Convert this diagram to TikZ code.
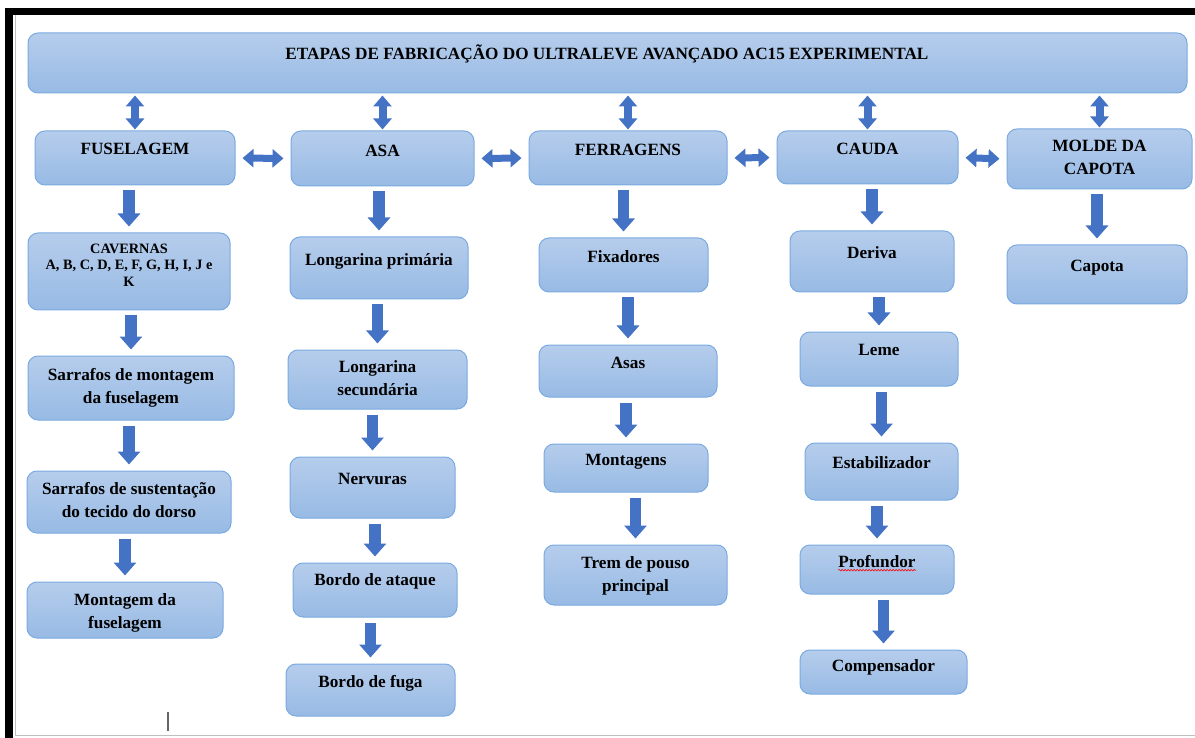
\documentclass[tikz,border=0pt]{standalone}
\usepackage{fontspec}
\setmainfont{Liberation Serif}
\usetikzlibrary{arrows.meta, decorations.pathmorphing}

\definecolor{boxtop}{RGB}{182,205,236}
\definecolor{boxbot}{RGB}{151,186,228}
\definecolor{boxline}{RGB}{122,170,224}
\definecolor{arrblue}{RGB}{68,114,196}

\begin{document}
\begin{tikzpicture}[x=1pt,y=-1pt,
  etapa/.style={rectangle, rounded corners=10pt, draw=boxline, line width=1pt,
    top color=boxtop, bottom color=boxbot},
  txt/.style={anchor=north, inner sep=0pt, align=center,
    font=\bfseries\fontsize{17.2}{23}\selectfont},
  small/.style={anchor=north, inner sep=0pt, align=center,
    font=\bfseries\fontsize{14.3}{16.8}\selectfont},
  down/.style={arrblue, line width=11.5pt,
    -{Triangle[width=22pt,length=13pt]}, shorten <=5pt, shorten >=6pt},
  updown/.style={arrblue, line width=8pt,
    {Triangle[width=18pt,length=11pt]}-{Triangle[width=18pt,length=11pt]},
    shorten <=2pt, shorten >=1pt},
  side/.style={arrblue, line width=7pt,
    {Triangle[width=18pt,length=11pt]}-{Triangle[width=18pt,length=11pt]},
    shorten <=7pt, shorten >=7pt}]

\useasboundingbox (0,0) rectangle (1195,738);

% page frame
  \fill[black] (5,8) rectangle (1195,15);
  \fill[black] (5,8) rectangle (13,738);
  \draw[black!25] (15,15) -- (15,735) -- (1195,735);
  \draw[black!60, line width=1.2pt] (168,712) -- (168,731);

% title and main stages
  \node[etapa, minimum width=1159, minimum height=60] (title) at (607.5,63) {};
  \node[txt] (title-t) at (607,45) {ETAPAS DE FABRICAÇÃO DO ULTRALEVE AVANÇADO AC15 EXPERIMENTAL};

  \node[etapa, minimum width=200, minimum height=54] (fus) at (135,158) {};
  \node[txt] (fus-t) at (fus.north) [yshift=-12] {FUSELAGEM};
  \node[etapa, minimum width=183, minimum height=55] (asa) at (382.5,158.5) {};
  \node[txt] (asa-t) at (asa.north) [yshift=-14] {ASA};
  \node[etapa, minimum width=198, minimum height=54] (fer) at (628,158) {};
  \node[txt] (fer-t) at (fer.north) [yshift=-13] {FERRAGENS};
  \node[etapa, minimum width=181, minimum height=53] (cau) at (867.5,157.5) {};
  \node[txt] (cau-t) at (cau.north) [yshift=-12] {CAUDA};
  \node[etapa, minimum width=185, minimum height=60] (mol) at (1099.5,159) {};
  \node[txt] (mol-t) at (mol.north) [yshift=-11] {MOLDE DA\\CAPOTA};

% fuselagem
  \node[etapa, minimum width=202, minimum height=77] (cav) at (129,271.5) {};
  \node[small] (cav-t) at (cav.north) [yshift=-11] {CAVERNAS\\A, B, C, D, E, F, G, H, I, J e\\K};
  \node[etapa, minimum width=206, minimum height=64] (sarm) at (131,388) {};
  \node[txt] (sarm-t) at (sarm.north) [yshift=-13] {Sarrafos de montagem\\da fuselagem};
  \node[etapa, minimum width=204, minimum height=62] (sars) at (129,502) {};
  \node[txt] (sars-t) at (sars.north) [yshift=-12] {Sarrafos de sustentação\\do tecido do dorso};
  \node[etapa, minimum width=196, minimum height=56] (mon) at (125,610) {};
  \node[txt] (mon-t) at (mon.north) [yshift=-12] {Montagem da\\fuselagem};

% asa
  \node[etapa, minimum width=178, minimum height=62] (lp) at (379,268) {};
  \node[txt] (lp-t) at (lp.north) [yshift=-17] {Longarina primária};
  \node[etapa, minimum width=179, minimum height=59] (ls) at (377.5,379.5) {};
  \node[txt] (ls-t) at (ls.north) [yshift=-11] {Longarina\\secundária};
  \node[etapa, minimum width=165, minimum height=61] (ner) at (372.5,487.5) {};
  \node[txt] (ner-t) at (ner.north) [yshift=-17] {Nervuras};
  \node[etapa, minimum width=164, minimum height=54] (bat) at (375,590) {};
  \node[txt] (bat-t) at (bat.north) [yshift=-11] {Bordo de ataque};
  \node[etapa, minimum width=169, minimum height=52] (bfu) at (370.5,690) {};
  \node[txt] (bfu-t) at (bfu.north) [yshift=-12] {Bordo de fuga};

% ferragens
  \node[etapa, minimum width=169, minimum height=54] (fix) at (623.5,265) {};
  \node[txt] (fix-t) at (fix.north) [yshift=-13] {Fixadores};
  \node[etapa, minimum width=178, minimum height=52] (asas) at (628,371) {};
  \node[txt] (asas-t) at (asas.north) [yshift=-12] {Asas};
  \node[etapa, minimum width=164, minimum height=48] (mtg) at (626,468) {};
  \node[txt] (mtg-t) at (mtg.north) [yshift=-11] {Montagens};
  \node[etapa, minimum width=183, minimum height=60] (trem) at (635.5,575) {};
  \node[txt] (trem-t) at (trem.north) [yshift=-12] {Trem de pouso\\principal};

% cauda
  \node[etapa, minimum width=164, minimum height=61] (der) at (872,261.5) {};
  \node[txt] (der-t) at (der.north) [yshift=-16] {Deriva};
  \node[etapa, minimum width=158, minimum height=54] (lem) at (879,359) {};
  \node[txt] (lem-t) at (lem.north) [yshift=-13] {Leme};
  \node[etapa, minimum width=153, minimum height=57] (est) at (881.5,471.5) {};
  \node[txt] (est-t) at (est.north) [yshift=-14] {Estabilizador};
  \node[etapa, minimum width=154, minimum height=49] (pro) at (877,569.5) {};
  \node[txt] (pro-t) at (pro.north) [yshift=-11] {Profundor};
  \node[etapa, minimum width=167, minimum height=44] (com) at (883.5,672) {};
  \node[txt] (com-t) at (com.north) [yshift=-10] {Compensador};

% molde da capota
  \node[etapa, minimum width=180, minimum height=59] (cap) at (1097,274.5) {};
  \node[txt] (cap-t) at (cap.north) [yshift=-15] {Capota};

% spelling mark
  \draw[red, line width=0.6pt, decorate,
    decoration={snake, segment length=3pt, amplitude=0.8pt}]
    ([yshift=-2]pro-t.south west) -- ([yshift=-2]pro-t.south east);

% links to the title
  \foreach \n in {fus,asa,fer,cau,mol}
    \draw[updown] (title.south -| \n.north) -- (\n.north);

% links between the stages
  \draw[side] (fus.east) -- (asa.west);
  \draw[side] (asa.east) -- (fer.west);
  \draw[side] (fer.east) -- (cau.west);
  \draw[side] (cau.east) -- (mol.west);

% steps of each stage
  \foreach \a/\b in {fus/cav,cav/sarm,sarm/sars,sars/mon,
                     asa/lp,lp/ls,ls/ner,ner/bat,bat/bfu,
                     fer/fix,fix/asas,asas/mtg,mtg/trem,
                     cau/der,der/lem,lem/est,est/pro,pro/com,
                     mol/cap}
    \draw[down] (\b.north |- \a.south) -- (\b.north);

\end{tikzpicture}
\end{document}
